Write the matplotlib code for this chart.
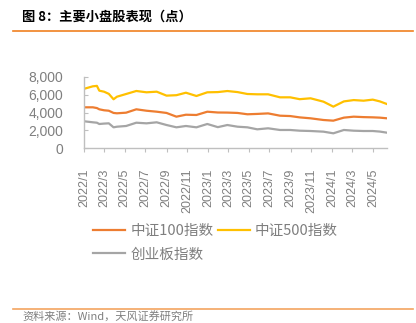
import matplotlib
matplotlib.use("Agg")
import matplotlib.pyplot as plt
import matplotlib.dates as mdates
import pandas as pd

plt.rcParams['font.family'] = ['Noto Sans CJK SC', 'DejaVu Sans']

dates = ["2022-01-04", "2022-01-27", "2022-02-08", "2022-02-15", "2022-03-01",
         "2022-03-15", "2022-03-29", "2022-04-08", "2022-05-05", "2022-06-04",
         "2022-07-04", "2022-08-03", "2022-09-01", "2022-09-30", "2022-10-28",
         "2022-11-28", "2022-12-30", "2023-01-30", "2023-02-27", "2023-03-29",
         "2023-04-27", "2023-05-26", "2023-06-27", "2023-08-01", "2023-08-31",
         "2023-09-28", "2023-10-30", "2023-12-07", "2024-01-05", "2024-02-05",
         "2024-03-05", "2024-04-03", "2024-04-30", "2024-05-21", "2024-06-11"]

csi100 = [4585, 4585, 4500, 4360, 4250, 4200, 3950, 3910, 3980, 4360,
          4200, 4090, 3950, 3530, 3750, 3720, 4090, 4000, 3990, 3950,
          3800, 3840, 3900, 3640, 3600, 3450, 3345, 3155, 3080, 3420,
          3530, 3480, 3455, 3420, 3345]

csi500 = [6700, 6950, 7000, 6460, 6345, 6100, 5490, 5780, 6085, 6425,
          6275, 6345, 5900, 5950, 6230, 5860, 6275, 6300, 6420, 6300,
          6085, 6050, 6050, 5710, 5710, 5500, 5600, 5220, 4660, 5250,
          5400, 5330, 5450, 5250, 4950]

chinext = [3000, 2895, 2850, 2705, 2750, 2780, 2330, 2400, 2480, 2850,
           2780, 2895, 2590, 2330, 2480, 2330, 2705, 2350, 2590, 2400,
           2330, 2105, 2220, 2030, 2030, 1950, 1915, 1840, 1655, 2030,
           1950, 1915, 1915, 1850, 1725]

labels = ["中证100指数", "中证500指数", "创业板指数"]
colors = ["#ED7D31", "#FFC000", "#A5A5A5"]

title = "图 8：主要小盘股表现（点）"
source = "资料来源：Wind，天风证券研究所"

W, H = 416, 323
fig = plt.figure(figsize=(W / 100, H / 100), dpi=100)
ax = fig.add_axes([84 / W, 1 - 148 / H, (387 - 84) / W, (148 - 77) / H])

x = pd.to_datetime(dates)
handles = []
for vals, lab, col in zip([csi100, csi500, chinext], labels, colors):
    h, = ax.plot(x, vals, color=col, lw=1.6, label=lab)
    handles.append(h)

ax.set_ylim(0, 8000)
ax.set_yticks([0, 2000, 4000, 6000, 8000])
ax.yaxis.set_major_formatter(matplotlib.ticker.FuncFormatter(lambda v, p: f"{int(v):,}"))
ax.set_xlim(pd.Timestamp("2022-01-01"), x[-1])
ax.xaxis.set_major_locator(mdates.MonthLocator(bymonth=[1, 3, 5, 7, 9, 11]))
ax.xaxis.set_major_formatter(matplotlib.ticker.FuncFormatter(
    lambda v, p: f"{mdates.num2date(v).year}/{mdates.num2date(v).month}"))

for s in ["top", "right"]:
    ax.spines[s].set_visible(False)
for s in ["left", "bottom"]:
    ax.spines[s].set_color("#BFBFBF")
    ax.spines[s].set_linewidth(1)

ax.tick_params(axis="y", direction="in", length=3, color="#BFBFBF", pad=15,
               labelsize=10, labelcolor="#7F7F7F")
ax.tick_params(axis="x", direction="out", length=3, color="#BFBFBF", pad=12,
               labelsize=9, labelcolor="#7F7F7F", labelrotation=90)
for t in ax.get_yticklabels() + ax.get_xticklabels():
    t.set_family(["Liberation Sans", "DejaVu Sans"])

order = [0, 2, 1]
leg = fig.legend([handles[i] for i in order], [labels[i] for i in order],
                 loc="upper left", bbox_to_anchor=(93 / W, 1 - 224 / H),
                 ncol=2, frameon=False, fontsize=10.5, handlelength=2.2,
                 handletextpad=0.35, columnspacing=0.3, labelspacing=0.65,
                 borderpad=0, borderaxespad=0)
for t in leg.get_texts():
    t.set_color("#7F7F7F")

fig.text(22 / W, 1 - 17 / H, title, fontsize=9.5, fontweight="bold",
         color="#000000", va="center", ha="left")
fig.add_artist(plt.Line2D([13 / W, 413 / W], [1 - 31 / H, 1 - 31 / H],
                          color="#F08020", lw=1.2))
fig.add_artist(plt.Line2D([13 / W, 413 / W], [1 - 309 / H, 1 - 309 / H],
                          color="#F4A460", lw=1.2))
fig.text(22 / W, 1 - 322 / H, source, fontsize=8, color="#7F7F7F",
         va="bottom", ha="left")

fig.savefig("out.png", dpi=100, facecolor="white")
